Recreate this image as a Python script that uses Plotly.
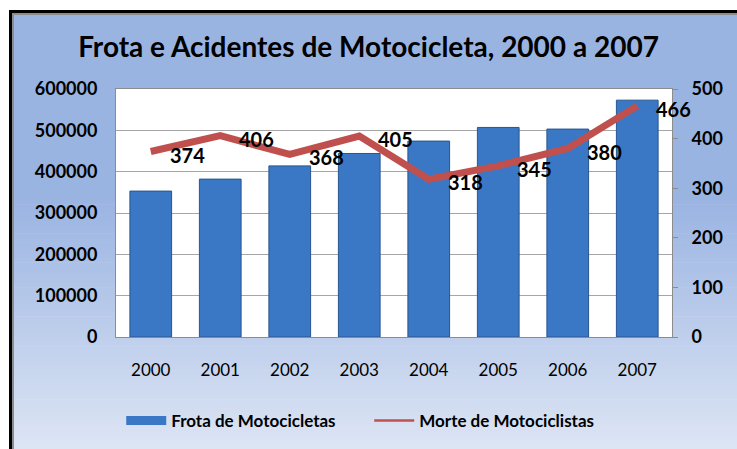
import plotly.graph_objects as go

years = ["2000", "2001", "2002", "2003", "2004", "2005", "2006", "2007"]
frota = [353000, 382000, 414000, 444000, 474000, 507000, 503000, 573000]
mortes = [374, 406, 368, 405, 318, 345, 380, 466]
left_ticks = [0, 100000, 200000, 300000, 400000, 500000, 600000]
right_ticks = [0, 100, 200, 300, 400, 500]

W, H = 737, 449
L, R, T, B = 116, 65, 89, 112
PW, PH = W - L - R, H - T - B


def px_x(px):
    return (px - L) / PW


def px_y(py):
    return (H - B - py) / PH


FONT = "Lato"
BLUE = "#3A78C6"
RED = "#C0504D"
xpos = list(range(len(years)))

fig = go.Figure()
fig.add_trace(go.Bar(
    x=xpos, y=frota, name="Frota de Motocicletas",
    marker=dict(color=BLUE, line=dict(color="#28558F", width=1)),
    width=0.6, yaxis="y", showlegend=False,
))
fig.add_trace(go.Scatter(
    x=xpos, y=mortes, name="Morte de Motociclistas", mode="lines",
    line=dict(color=RED, width=7), yaxis="y2", showlegend=False,
))
fig.add_trace(go.Scatter(x=[None], y=[None], mode="lines", name="Frota de Motocicletas",
                         line=dict(color=BLUE, width=9), yaxis="y"))
fig.add_trace(go.Scatter(x=[None], y=[None], mode="lines", name="Morte de Motociclistas",
                         line=dict(color=RED, width=2.5), yaxis="y2"))

annotations = []
for xi, v in zip(xpos, mortes):
    annotations.append(dict(
        x=xi, y=v, xref="x", yref="y2", text=str(v), showarrow=False,
        xanchor="left", yanchor="middle", xshift=17, yshift=-3,
        font=dict(family=FONT, size=20, color="black", weight="bold"),
    ))

shapes = []
top_c = (0x9A, 0xB4, 0xE2)
bot_c = (0xDD, 0xE5, 0xF4)
y0 = 15
start_grad = 200
n = 60
shapes.append(dict(type="rect", xref="paper", yref="paper", layer="below",
                   x0=px_x(14), x1=px_x(W), y0=px_y(start_grad), y1=px_y(y0),
                   fillcolor="rgb(%d,%d,%d)" % top_c, line=dict(width=0)))
step = (H - start_grad) / n
for i in range(n):
    f = (i + 0.5) / n
    c = tuple(int(round(top_c[k] + (bot_c[k] - top_c[k]) * f)) for k in range(3))
    a = start_grad + i * step
    b = min(a + step + 0.6, H)
    shapes.append(dict(type="rect", xref="paper", yref="paper", layer="below",
                       x0=px_x(14), x1=px_x(W), y0=px_y(b), y1=px_y(a),
                       fillcolor="rgb(%d,%d,%d)" % c, line=dict(width=0)))
shapes.append(dict(type="rect", xref="paper", yref="paper", layer="below",
                   x0=0, x1=1, y0=0, y1=1, fillcolor="white", line=dict(width=0)))
shapes.append(dict(type="line", xref="paper", yref="paper",
                   x0=px_x(10.5), x1=px_x(W), y0=px_y(11.5), y1=px_y(11.5),
                   line=dict(color="black", width=3)))
shapes.append(dict(type="line", xref="paper", yref="paper",
                   x0=px_x(10.5), x1=px_x(10.5), y0=px_y(10), y1=px_y(H),
                   line=dict(color="black", width=3)))
shapes.append(dict(type="line", xref="paper", yref="paper",
                   x0=px_x(12), x1=px_x(W), y0=px_y(14), y1=px_y(14),
                   line=dict(color="#8C8C8C", width=2)))
shapes.append(dict(type="line", xref="paper", yref="paper",
                   x0=px_x(13), x1=px_x(13), y0=px_y(13), y1=px_y(H),
                   line=dict(color="#8C8C8C", width=2)))

fig.update_layout(
    width=W, height=H,
    margin=dict(l=L, r=R, t=T, b=B, autoexpand=False),
    paper_bgcolor="white", plot_bgcolor="rgba(0,0,0,0)",
    title=dict(text="Frota e Acidentes de Motocicleta, 2000 a 2007",
               x=0.5, xref="container", xanchor="center",
               y=1 - 47 / H, yref="container", yanchor="middle",
               font=dict(family=FONT, size=28, color="black", weight="bold")),
    xaxis=dict(type="linear", range=[-0.5, len(years) - 0.5], autorange=False,
               tickvals=xpos, ticktext=years,
               showgrid=False, showline=True, linecolor="#8C8C8C",
               linewidth=1, mirror=True, ticks="", ticklabelstandoff=18,
               zeroline=False,
               tickfont=dict(family=FONT, size=17, color="black")),
    yaxis=dict(range=[0, 600000], autorange=False, tickvals=left_ticks,
               ticktext=[str(v) for v in left_ticks],
               showgrid=True, gridcolor="#A6A6A6", gridwidth=1,
               showline=True, linecolor="#8C8C8C", mirror=True, zeroline=False,
               ticks="", ticklabelstandoff=14,
               tickfont=dict(family=FONT, size=18, color="black", weight="bold")),
    yaxis2=dict(range=[0, 500], autorange=False, tickvals=right_ticks,
                overlaying="y", side="right",
                showgrid=False, showline=True, linecolor="#8C8C8C", zeroline=False,
                ticks="outside", ticklen=5, tickcolor="#8C8C8C", ticklabelstandoff=10,
                tickfont=dict(family=FONT, size=18, color="black", weight="bold")),
    legend=dict(orientation="h", xref="container", yref="container",
                x=0.501, xanchor="center", y=1 - 421 / H, yanchor="middle",
                bgcolor="rgba(0,0,0,0)", itemwidth=40,
                entrywidth=193, entrywidthmode="pixels",
                font=dict(family=FONT, size=17, color="black", weight="bold")),
    showlegend=True,
    shapes=shapes,
    annotations=annotations,
)

fig.write_html(
    "out.html",
    config={"displayModeBar": False},
    post_script="document.body.style.margin='0';document.body.style.overflow='hidden';",
)
